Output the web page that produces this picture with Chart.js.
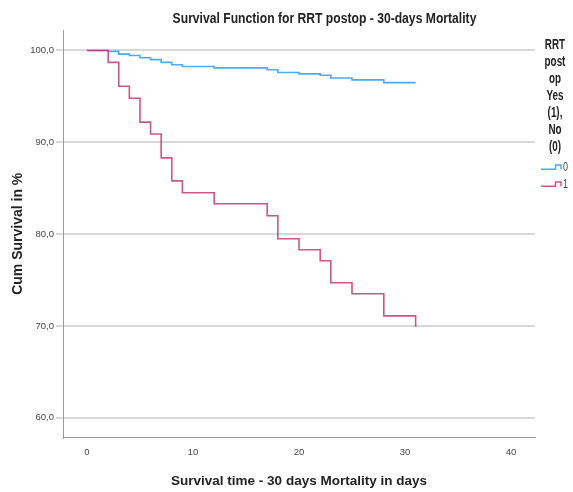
<!DOCTYPE html>
<html>
<head>
<meta charset="utf-8">
<script src="https://cdn.jsdelivr.net/npm/chart.js@4.4.1/dist/chart.umd.min.js"></script>
<style>
  html, body { margin: 0; padding: 0; background: #fff; }
  canvas { display: block; }
</style>
</head>
<body>
<canvas id="km" width="573" height="492"></canvas>
<script>
// Kaplan-Meier steps (day of event -> cum survival %)
const DAYS = [0, 2, 3, 4, 5, 6, 7, 8, 9, 12, 17, 18, 20, 22, 23, 25, 28, 31];
const SURV_NO_RRT = [100, 99.9, 99.6, 99.45, 99.2, 99.0, 98.7, 98.45, 98.25, 98.1, 97.9, 97.6, 97.45, 97.3, 97.0, 96.8, 96.5, 96.5];
const SURV_RRT = [100, 98.7, 96.1, 94.8, 92.2, 90.9, 88.3, 85.8, 84.5, 83.3, 82.0, 79.5, 78.3, 77.1, 74.7, 73.5, 71.1, 69.9];
const GROUPS = ['0', '1'];
const X_TICKS = [0, 10, 20, 30, 40];
const Y_TICKS = [60, 70, 80, 90, 100];

const TITLE = 'Survival Function for RRT postop - 30-days Mortality';
const LEGEND_TITLE = ['RRT', 'post', 'op', 'Yes', '(1),', 'No', '(0)'];

const COLORS = {
    blue: '#47acf4',
    red: 'rgba(192, 58, 115, 0.85)',
    grid: '#d7d7d7',
    axis: '#9c9c9c',
    text: '#222',
    tick: '#444',
};
const FONT = '"Liberation Sans", Arial, sans-serif';

const toPoints = (vals) => DAYS.map((d, i) => ({ x: d, y: vals[i] }));

// SPSS text looks horizontally squeezed, so draw it scaled
function squeezedText(ctx, text, x, y, sx) {
    ctx.save();
    ctx.translate(x, y);
    ctx.scale(sx, 1);
    ctx.fillText(text, 0, 0);
    ctx.restore();
}

const sideText = {
    id: 'sideText',
    afterDraw(chart) {
        const ctx = chart.ctx;
        ctx.save();
        ctx.fillStyle = COLORS.text;
        ctx.textAlign = 'center';
        ctx.textBaseline = 'middle';

        ctx.font = 'bold 15px ' + FONT;
        squeezedText(ctx, TITLE, 324.5, 19, 0.81);

        ctx.font = 'bold 14.5px ' + FONT;
        LEGEND_TITLE.forEach((line, i) => squeezedText(ctx, line, 555, 44.5 + 17 * i, 0.68));

        // legend entries with little step symbols
        const swatch = [COLORS.blue, COLORS.red];
        GROUPS.forEach((g, i) => {
            const cy = 167 + 17 * i;
            ctx.strokeStyle = swatch[i];
            ctx.lineWidth = 1.5;
            ctx.beginPath();
            ctx.moveTo(541, cy + 2.3);
            ctx.lineTo(555.5, cy + 2.3);
            ctx.lineTo(555.5, cy - 2);
            ctx.lineTo(561, cy - 2);
            ctx.lineTo(561, cy + 2.3);
            ctx.stroke();
            ctx.fillStyle = COLORS.tick;
            ctx.font = '12.5px ' + FONT;
            squeezedText(ctx, g, 565.5, cy + 0.5, 0.72);
        });
        ctx.restore();
    },
};

new Chart(document.getElementById('km'), {
    type: 'line',
    data: {
        datasets: [
            {
                label: GROUPS[0],
                data: toPoints(SURV_NO_RRT),
                borderColor: COLORS.blue,
                borderWidth: 1.6,
                stepped: 'before',
                pointRadius: 0,
                fill: false,
                order: 1,
            },
            {
                label: GROUPS[1],
                data: toPoints(SURV_RRT),
                borderColor: COLORS.red,
                borderWidth: 1.6,
                stepped: 'before',
                pointRadius: 0,
                fill: false,
                order: 0,
            },
        ],
    },
    options: {
        responsive: false,
        animation: false,
        layout: { padding: { top: 30, right: 38, left: 0, bottom: 0 } },
        plugins: {
            legend: { display: false },
            tooltip: { enabled: false },
            title: { display: false },
        },
        scales: {
            x: {
                type: 'linear',
                min: -2.26,
                max: 42.26,
                afterBuildTicks: (s) => { s.ticks = X_TICKS.map(v => ({ value: v })); },
                afterFit: (s) => { s.height = 54.5; },
                grid: { display: false },
                border: { display: true, color: COLORS.axis, width: 1 },
                ticks: {
                    padding: 1,
                    maxRotation: 0,
                    color: COLORS.tick,
                    font: { family: FONT, size: 9.5 },
                },
                title: {
                    display: true,
                    text: 'Survival time - 30 days Mortality in days',
                    color: COLORS.text,
                    font: { family: FONT, size: 13.5, weight: 'bold' },
                    padding: { top: 0, bottom: 3 },
                },
            },
            y: {
                type: 'linear',
                min: 57.85,
                max: 102.23,
                afterBuildTicks: (s) => { s.ticks = Y_TICKS.map(v => ({ value: v })); },
                afterFit: (s) => { s.width = 63; },
                grid: {
                    color: COLORS.grid,
                    lineWidth: 2,
                    drawTicks: true,
                    tickLength: 7,
                    tickColor: COLORS.grid,
                },
                border: { display: true, color: COLORS.axis, width: 1 },
                ticks: {
                    padding: 2,
                    color: COLORS.tick,
                    font: { family: FONT, size: 9.5 },
                    callback: (v) => v.toFixed(1).replace('.', ','),
                },
                title: {
                    display: true,
                    text: 'Cum Survival in %',
                    color: COLORS.text,
                    font: { family: FONT, size: 14, weight: 'bold' },
                    padding: { top: 10, bottom: 0 },
                },
            },
        },
    },
    plugins: [sideText],
});
</script>
</body>
</html>
